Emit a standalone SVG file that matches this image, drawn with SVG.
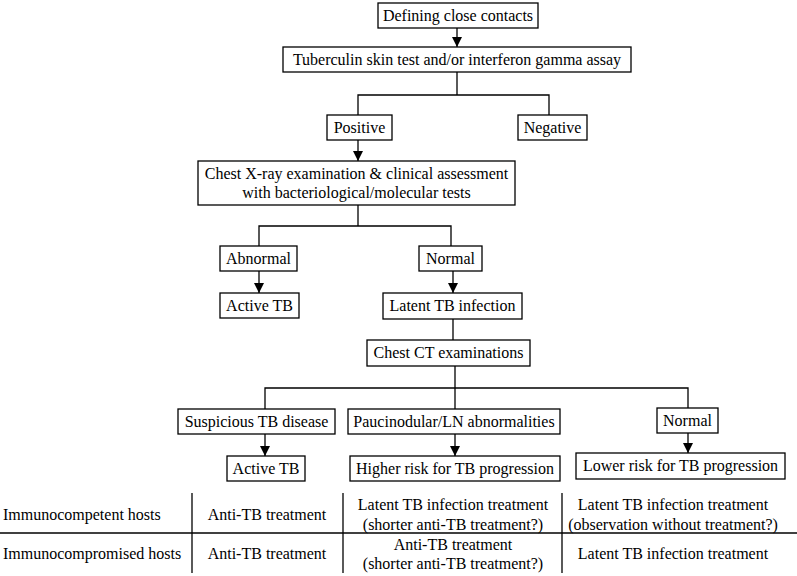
<svg xmlns="http://www.w3.org/2000/svg" width="797" height="576" viewBox="0 0 797 576">
<defs>
<style>
.box{fill:#fff;stroke:#000;stroke-width:1.3}
.t{font-family:"Liberation Serif","Times New Roman",serif;font-size:16px;fill:#000;text-anchor:middle}
.tl{font-family:"Liberation Serif","Times New Roman",serif;font-size:16px;fill:#000}
.ln{fill:none;stroke:#000;stroke-width:1.3}
</style>
<marker id="ah" viewBox="0 0 10 10" refX="10" refY="5" markerWidth="10" markerHeight="10" markerUnits="userSpaceOnUse" orient="auto">
<path d="M0,0 L10,5 L0,10 Z" fill="#000"/>
</marker>
</defs>
<rect width="797" height="576" fill="#fff"/>
<g id="connectors">
<line class="ln" x1="457" y1="28" x2="457" y2="47" marker-end="url(#ah)"/>
<polyline class="ln" points="457,72 457,95"/>
<polyline class="ln" points="358,115 358,95 549,95 549,115"/>
<line class="ln" x1="358" y1="140" x2="358" y2="161" marker-end="url(#ah)"/>
<polyline class="ln" points="358,205 358,226"/>
<polyline class="ln" points="259,246 259,226 451,226 451,246"/>
<line class="ln" x1="259" y1="271" x2="259" y2="293" marker-end="url(#ah)"/>
<line class="ln" x1="453" y1="271" x2="453" y2="293" marker-end="url(#ah)"/>
<line class="ln" x1="453" y1="319" x2="453" y2="340"/>
<polyline class="ln" points="455,366 455,388"/>
<polyline class="ln" points="265,409 265,388 688,388 688,408"/>
<line class="ln" x1="455" y1="388" x2="455" y2="409"/>
<line class="ln" x1="265" y1="434" x2="265" y2="456" marker-end="url(#ah)"/>
<line class="ln" x1="455" y1="434" x2="455" y2="456" marker-end="url(#ah)"/>
<line class="ln" x1="688" y1="433" x2="688" y2="453" marker-end="url(#ah)"/>
</g>
<g id="n-defining"><rect class="box" x="378" y="3" width="160" height="25"/><text class="t" x="458" y="21">Defining close contacts</text></g>
<g id="n-tst"><rect class="box" x="283" y="47" width="348" height="25"/><text class="t" x="457" y="65">Tuberculin skin test and/or interferon gamma assay</text></g>
<g id="n-positive"><rect class="box" x="327" y="115" width="65" height="25"/><text class="t" x="359.500" y="133">Positive</text></g>
<g id="n-negative"><rect class="box" x="518" y="115" width="69" height="25"/><text class="t" x="552.500" y="133">Negative</text></g>
<g id="n-cxr"><rect class="box" x="198" y="161" width="317" height="44"/><text class="t" x="356.500" y="179">Chest X-ray examination &amp; clinical assessment</text><text class="t" x="356.500" y="198">with bacteriological/molecular tests</text></g>
<g id="n-abnormal"><rect class="box" x="220" y="246" width="77" height="25"/><text class="t" x="258.500" y="264">Abnormal</text></g>
<g id="n-normal1"><rect class="box" x="419" y="246" width="63" height="25"/><text class="t" x="450.500" y="264">Normal</text></g>
<g id="n-active1"><rect class="box" x="220" y="293" width="79" height="25"/><text class="t" x="259.500" y="311">Active TB</text></g>
<g id="n-ltbi"><rect class="box" x="383" y="293" width="139" height="26"/><text class="t" x="452.500" y="311">Latent TB infection</text></g>
<g id="n-ct"><rect class="box" x="367" y="340" width="163" height="26"/><text class="t" x="448.500" y="358">Chest CT examinations</text></g>
<g id="n-suspicious"><rect class="box" x="178" y="409" width="157" height="25"/><text class="t" x="256.500" y="427">Suspicious  TB disease</text></g>
<g id="n-pauci"><rect class="box" x="348" y="409" width="212" height="25"/><text class="t" x="454" y="427">Paucinodular/LN abnormalities</text></g>
<g id="n-normal2"><rect class="box" x="657" y="408" width="61" height="25"/><text class="t" x="687.500" y="426">Normal</text></g>
<g id="n-active2"><rect class="box" x="227" y="456" width="78" height="25"/><text class="t" x="266" y="474">Active TB</text></g>
<g id="n-higher"><rect class="box" x="350" y="456" width="210" height="25"/><text class="t" x="455" y="474">Higher risk for TB progression</text></g>
<g id="n-lower"><rect class="box" x="576" y="453" width="209" height="26"/><text class="t" x="680.500" y="471">Lower risk for TB progression</text></g>
<g id="table">
<line class="ln" x1="0" y1="533" x2="797" y2="533"/>
<line class="ln" x1="192" y1="493" x2="192" y2="573"/>
<line class="ln" x1="343" y1="493" x2="343" y2="573"/>
<line class="ln" x1="562" y1="493" x2="562" y2="573"/>
<text class="tl" x="3" y="520">Immunocompetent hosts</text>
<text class="tl" x="3" y="559">Immunocompromised hosts</text>
<text class="t" x="267" y="520">Anti-TB treatment</text>
<text class="t" x="267" y="559">Anti-TB treatment</text>
<text class="t" x="453" y="510">Latent TB infection treatment</text>
<text class="t" x="453" y="530">(shorter anti-TB treatment?)</text>
<text class="t" x="453" y="550">Anti-TB treatment</text>
<text class="t" x="453" y="569">(shorter anti-TB treatment?)</text>
<text class="t" x="673" y="510">Latent TB infection treatment</text>
<text class="t" x="673" y="530">(observation without treatment?)</text>
<text class="t" x="673" y="559">Latent TB infection treatment</text>
</g>
</svg>
